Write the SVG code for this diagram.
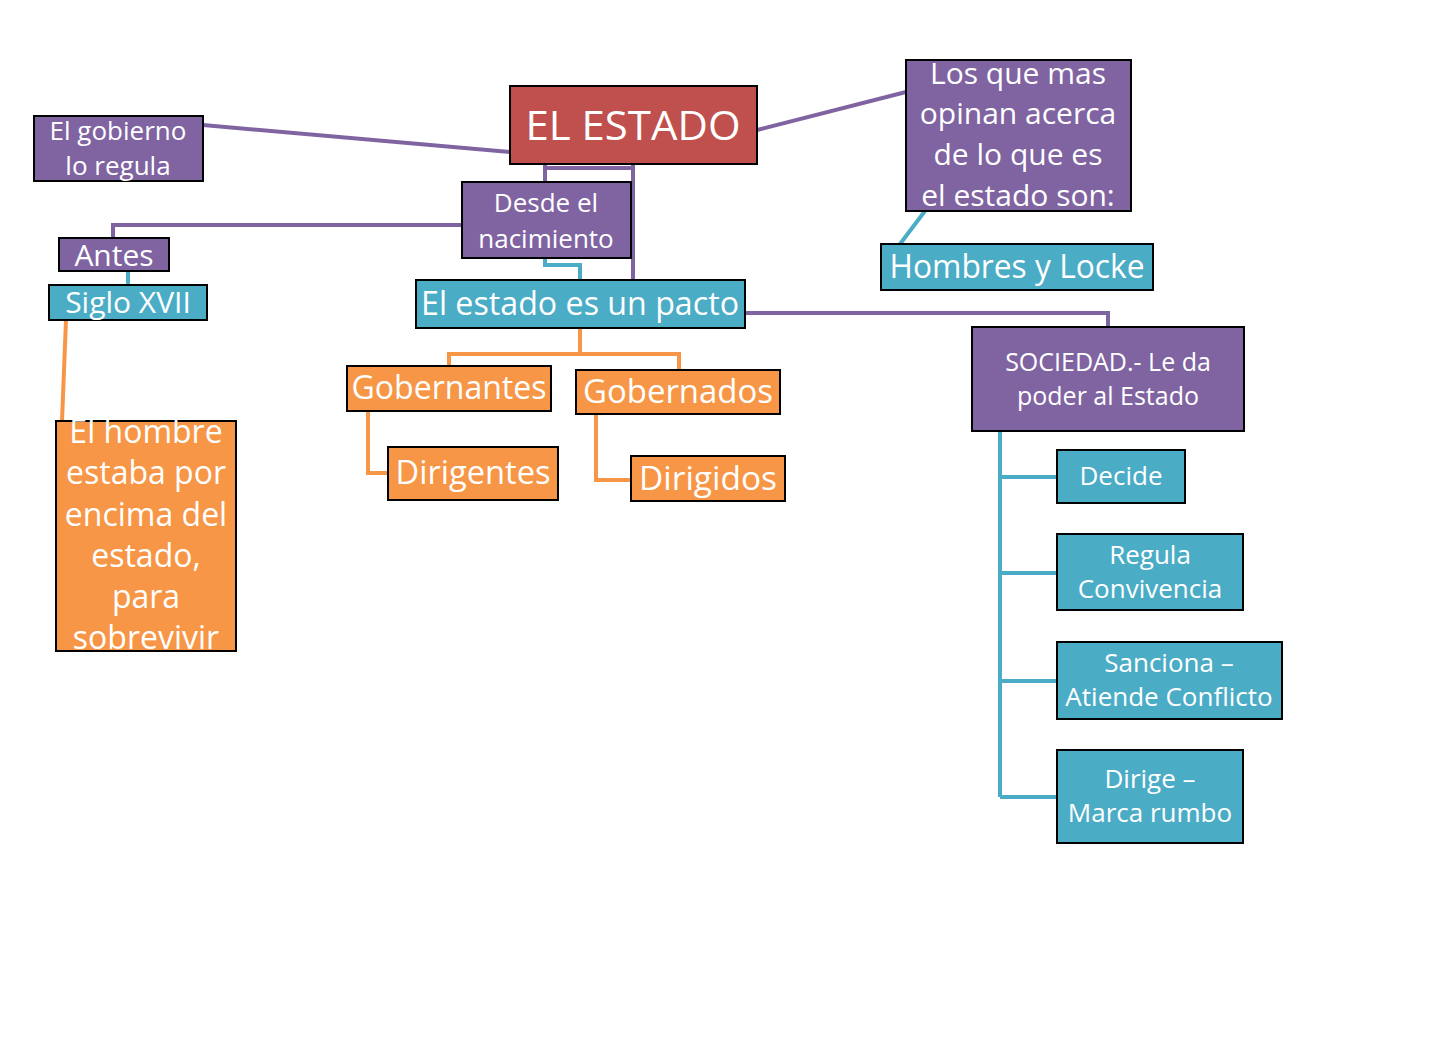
<svg xmlns="http://www.w3.org/2000/svg" width="1441" height="1051" viewBox="0 0 1441 1051">
<style>
.b{stroke:#000;stroke-width:2}
.r{fill:#C0504D}.p{fill:#8064A2}.t{fill:#4BACC6}.o{fill:#F79646}
text{fill:#fff;font-family:"Open Sans","Noto Sans",sans-serif;text-anchor:middle}
.cp{stroke:#8064A2;stroke-width:4;fill:none}
.ct{stroke:#4BACC6;stroke-width:4;fill:none}
.co{stroke:#F79646;stroke-width:4;fill:none}
</style>
<rect width="1441" height="1051" fill="#fff"/>
<g id="connectors">
<path class="cp" d="M203,125 L510,152 M757,130 L906,92 M545,164 V182 M545,168 H633 M633,164 V280 M462,225 H113 V238 M745,313 H1108 V327"/>
<path class="ct" d="M545,258 V265 H580 V280 M128,271 V285 M925,211 L900,244 M1000,431 V797 M1000,477 H1057 M1000,573 H1057 M1000,681 H1057 M1000,797 H1057"/>
<path class="co" d="M580,328 V354 M449,366 V354 H679 V370 M368,411 V473 H388 M596,414 V480 H631 M66,320 L62,421"/>
</g>
<g id="estado"><rect class="b r" x="510" y="86" width="247" height="78"/><text x="633" y="140" font-size="40" textLength="215" lengthAdjust="spacingAndGlyphs">EL ESTADO</text></g>
<g id="gobierno"><rect class="b p" x="34" y="116" width="169" height="65"/><text font-size="26"><tspan x="118" y="140">El gobierno</tspan><tspan x="118" y="175">lo regula</tspan></text></g>
<g id="losque"><rect class="b p" x="906" y="60" width="225" height="151"/><text font-size="30"><tspan x="1018" y="84">Los que mas</tspan><tspan x="1018" y="124">opinan acerca</tspan><tspan x="1018" y="165">de lo que es</tspan><tspan x="1018" y="206">el estado son:</tspan></text></g>
<g id="desde"><rect class="b p" x="462" y="182" width="169" height="76"/><text font-size="26"><tspan x="546" y="212">Desde el</tspan><tspan x="546" y="248">nacimiento</tspan></text></g>
<g id="antes"><rect class="b p" x="59" y="238" width="110" height="33"/><text x="114" y="266" font-size="30">Antes</text></g>
<g id="siglo"><rect class="b t" x="49" y="285" width="158" height="35"/><text x="128" y="313" font-size="30">Siglo XVII</text></g>
<g id="hombres"><rect class="b t" x="881" y="244" width="272" height="46"/><text x="1017" y="278" font-size="32" textLength="255" lengthAdjust="spacingAndGlyphs">Hombres y Locke</text></g>
<g id="pacto"><rect class="b t" x="416" y="280" width="329" height="48"/><text x="580" y="315" font-size="32" textLength="318" lengthAdjust="spacingAndGlyphs">El estado es un pacto</text></g>
<g id="sociedad"><rect class="b p" x="972" y="327" width="272" height="104"/><text font-size="25"><tspan x="1108" y="371">SOCIEDAD.- Le da</tspan><tspan x="1108" y="405">poder al Estado</tspan></text></g>
<g id="gobernantes"><rect class="b o" x="347" y="366" width="204" height="45"/><text x="449" y="399" font-size="32" textLength="195" lengthAdjust="spacingAndGlyphs">Gobernantes</text></g>
<g id="gobernados"><rect class="b o" x="576" y="370" width="204" height="44"/><text x="678" y="403" font-size="32" textLength="190" lengthAdjust="spacingAndGlyphs">Gobernados</text></g>
<g id="dirigentes"><rect class="b o" x="388" y="447" width="170" height="53"/><text x="473" y="484" font-size="32" textLength="155" lengthAdjust="spacingAndGlyphs">Dirigentes</text></g>
<g id="dirigidos"><rect class="b o" x="631" y="456" width="154" height="45"/><text x="708" y="490" font-size="32" textLength="138" lengthAdjust="spacingAndGlyphs">Dirigidos</text></g>
<g id="hombre"><rect class="b o" x="56" y="421" width="180" height="230"/><text font-size="32"><tspan x="146" y="443">El hombre</tspan><tspan x="146" y="484">estaba por</tspan><tspan x="146" y="526">encima del</tspan><tspan x="146" y="567">estado,</tspan><tspan x="146" y="608">para</tspan><tspan x="146" y="649">sobrevivir</tspan></text></g>
<g id="decide"><rect class="b t" x="1057" y="450" width="128" height="53"/><text x="1121" y="485" font-size="26">Decide</text></g>
<g id="regula"><rect class="b t" x="1057" y="534" width="186" height="76"/><text font-size="26"><tspan x="1150" y="564">Regula</tspan><tspan x="1150" y="598">Convivencia</tspan></text></g>
<g id="sanciona"><rect class="b t" x="1057" y="642" width="225" height="77"/><text font-size="26"><tspan x="1169" y="672">Sanciona –</tspan><tspan x="1169" y="706">Atiende Conflicto</tspan></text></g>
<g id="dirige"><rect class="b t" x="1057" y="750" width="186" height="93"/><text font-size="26"><tspan x="1150" y="788">Dirige –</tspan><tspan x="1150" y="822">Marca rumbo</tspan></text></g>
</svg>
